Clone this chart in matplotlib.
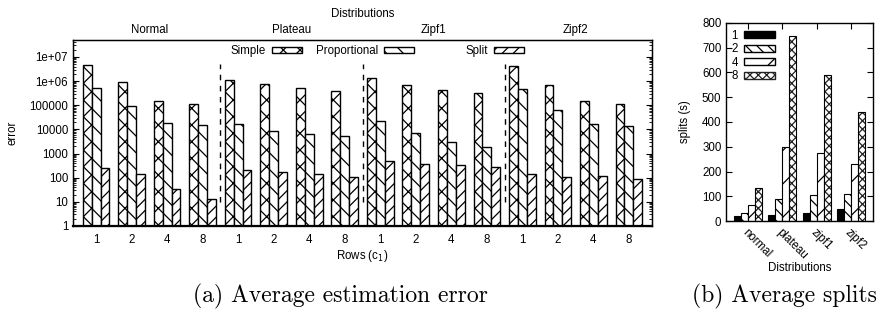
import numpy as np
import matplotlib
matplotlib.use("Agg")
import matplotlib.pyplot as plt
from matplotlib.patches import Patch
from matplotlib.ticker import LogLocator, NullFormatter

# ---------------- data ----------------
dists = ["Normal", "Plateau", "Zipf1", "Zipf2"]
rows = ["1", "2", "4", "8"]
simple_err = [4.6e6, 9.0e5, 1.5e5, 1.08e5,
              1.1e6, 7.4e5, 5.1e5, 4.0e5,
              1.3e6, 6.8e5, 4.4e5, 3.2e5,
              4.2e6, 7.0e5, 1.5e5, 1.08e5]
prop_err = [5.1e5, 9.5e4, 1.85e4, 1.5e4,
            1.7e4, 8.7e3, 6.3e3, 5.4e3,
            2.3e4, 7.2e3, 2.9e3, 1.9e3,
            4.5e5, 6.3e4, 1.6e4, 1.4e4]
split_err = [250, 147, 34, 13,
             215, 178, 147, 104,
             505, 380, 346, 288,
             147, 111, 122, 92]
err_yticks = [1, 10, 100, 1000, 10000, 100000, 1e6, 1e7]
err_yticklabels = ["1", "10", "100", "1000", "10000", "100000", "1e+06", "1e+07"]

split_cats = ["normal", "plateau", "zipf1", "zipf2"]
split_series = ["1", "2", "4", "8"]
splits_1 = [21, 25, 35, 50]
splits_2 = [35, 91, 105, 110]
splits_4 = [66, 300, 274, 230]
splits_8 = [133, 746, 588, 439]

# ---------------- style ----------------
plt.rcParams['font.family'] = ['Liberation Sans', 'DejaVu Sans']
plt.rcParams['font.size'] = 8
plt.rcParams['hatch.linewidth'] = 0.9
FS = 8.3

fig = plt.figure(figsize=(8.86, 3.13), dpi=100)

# ---------------- left chart ----------------
ax = fig.add_axes([73/886, 87/313, 579/886, 186/313])
n = len(simple_err)
x = np.arange(n)
w = 0.25
ax.bar(x - w, simple_err, w, facecolor='white', edgecolor='black',
       hatch='xx', linewidth=1.0, label='Simple')
ax.bar(x, prop_err, w, facecolor='white', edgecolor='black',
       hatch='\\\\', linewidth=1.0, label='Proportional')
ax.bar(x + w, split_err, w, facecolor='white', edgecolor='black',
       hatch='///', linewidth=1.0, label='Split')
ax.set_yscale('log')
ax.set_ylim(1, 5e7)
ax.set_xlim(-0.65, n - 1 + 0.65)
for b in [3.5, 7.5, 11.5]:
    ax.plot([b, b], [10, 5e6], ls=(0, (4, 4)), color='black', lw=1.0)
ax.set_yticks(err_yticks)
ax.set_yticklabels(err_yticklabels, fontsize=FS)
ax.yaxis.set_minor_locator(LogLocator(base=10, subs=np.arange(2, 10)))
ax.yaxis.set_minor_formatter(NullFormatter())
ax.tick_params(axis='y', which='major', direction='in', length=4, right=True)
ax.tick_params(axis='y', which='minor', direction='in', length=2, right=True)
ax.set_xticks(x)
ax.set_xticklabels(rows * len(dists), fontsize=FS)
ax.tick_params(axis='x', length=0, pad=6)
ax.set_ylabel('error', fontsize=FS, labelpad=8)
ax.set_xlabel('Rows (c$_1$)', fontsize=FS, labelpad=1)
for s in ax.spines.values():
    s.set_linewidth(1.0)
ax.spines['bottom'].set_linewidth(1.6)

ax2 = ax.twiny()
ax2.set_xlim(ax.get_xlim())
ax2.set_xticks([1.5, 5.5, 9.5, 13.5])
ax2.set_xticklabels(dists, fontsize=FS)
ax2.tick_params(axis='x', length=0, pad=3)
ax2.set_xlabel('Distributions', fontsize=FS, labelpad=5)

handles = [Patch(facecolor='white', edgecolor='black', hatch='xx'),
           Patch(facecolor='white', edgecolor='black', hatch='\\\\'),
           Patch(facecolor='white', edgecolor='black', hatch='///')]
labels = ['Simple', 'Proportional', 'Split']
anchors = [300, 412, 522]
for i, (h, l, ax_px) in enumerate(zip(handles, labels, anchors)):
    lg = ax.legend([h], [l], loc='center right', frameon=False, markerfirst=False,
                   bbox_to_anchor=((ax_px - 73 + 4) / 579, (226 - 51) / 186),
                   handlelength=2.6, handleheight=0.5, handletextpad=0.5,
                   fontsize=FS, borderaxespad=0, borderpad=0.2)
    if i < len(handles) - 1:
        ax.add_artist(lg)

# ---------------- right chart ----------------
bx = fig.add_axes([726.3/886, 91.7/313, 147/886, 198.6/313])
xc = np.arange(len(split_cats))
bw = 0.205
CHK = '#222222'
bx.bar(xc - 1.5*bw, splits_1, bw, facecolor='black', edgecolor='black', lw=0.8)
bx.bar(xc - 0.5*bw, splits_2, bw, facecolor='white', edgecolor='black',
       hatch='\\\\\\', lw=0.8)
bx.bar(xc + 0.5*bw, splits_4, bw, facecolor='white', edgecolor='black',
       hatch='/', lw=0.8)
bx.bar(xc + 1.5*bw, splits_8, bw, facecolor='white', edgecolor=CHK,
       hatch='xxxx', lw=0)
bx.bar(xc + 1.5*bw, splits_8, bw, facecolor='none', edgecolor='black', lw=0.8)
bx.set_ylim(0, 800)
bx.set_xlim(-0.64, len(split_cats) - 1 + 0.66)
bx.set_yticks(np.arange(0, 801, 100))
bx.tick_params(axis='y', direction='in', length=4, right=True, labelsize=FS)
bx.set_xticks(xc)
bx.set_xticklabels(split_cats, rotation=-45, ha='left', va='top',
                   rotation_mode='anchor', fontsize=FS)
bx.tick_params(axis='x', direction='in', length=4, top=True, pad=4)
bx.set_ylabel('splits (s)', fontsize=FS, labelpad=8)
bx.set_xlabel('Distributions', fontsize=FS, labelpad=0)
for s in bx.spines.values():
    s.set_linewidth(1.0)

h2 = [Patch(facecolor='black', edgecolor='black'),
      Patch(facecolor='white', edgecolor='black', hatch='\\\\\\'),
      Patch(facecolor='white', edgecolor='black', hatch='/'),
      Patch(facecolor='white', edgecolor=CHK, hatch='xxxx')]
bx.legend(h2, split_series, loc='upper left', frameon=False, markerfirst=False,
          bbox_to_anchor=(0.02, 0.975), handlelength=2.7, handleheight=0.55,
          handletextpad=0.5, labelspacing=0.12, fontsize=FS, borderaxespad=0,
          borderpad=0.2)

# ---------------- captions ----------------
fig.text(340/886, 1 - 296/313, '(a) Average estimation error', family='cmr10',
         fontsize=17, ha='center', va='center')
fig.text(784/886, 1 - 296/313, '(b) Average splits', family='cmr10',
         fontsize=17, ha='center', va='center')

fig.savefig('out.png', dpi=100)
